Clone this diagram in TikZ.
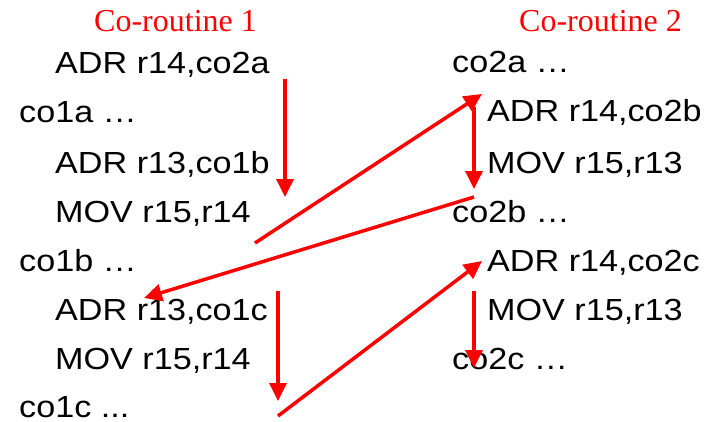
\documentclass[tikz,border=0pt]{standalone}
\usepackage{fontspec}
\usetikzlibrary{arrows.meta}
\newfontfamily\codefont[FakeStretch=1.12]{Liberation Sans}
\newfontfamily\titlefont{Liberation Serif}
\definecolor{arrred}{RGB}{255,0,0}
\tikzset{
  code/.style={anchor=base west, inner sep=0pt, font=\codefont\fontsize{30.5}{36}\selectfont, text=black},
  title/.style={anchor=base west, inner sep=0pt, font=\titlefont\fontsize{32}{38}\selectfont, text=arrred},
  flow/.style={draw=arrred, line width=3.5pt, -{Triangle[width=17pt,length=18pt]}}
}
\begin{document}
\begin{tikzpicture}[x=1pt,y=-1pt]
\useasboundingbox (0,0) rectangle (711,422);
% titles
\node[title] (t1) at (94,32) {Co-routine 1};
\node[title] (t2) at (519,32) {Co-routine 2};
% co-routine 1
\node[code] (l1) at (55,74) {ADR r14,co2a};
\node[code] (l2) at (19,123) {co1a \dots};
\node[code] (l3) at (55,173) {ADR r13,co1b};
\node[code] (l4) at (55,222) {MOV r15,r14};
\node[code] (l5) at (19,271) {co1b \dots};
\node[code] (l6) at (55,320) {ADR r13,co1c};
\node[code] (l7) at (55,369) {MOV r15,r14};
\node[code, text depth=0pt] (l8) at (19,417) {co1c ...};
% co-routine 2
\node[code] (r1) at (452,73) {co2a \dots};
\node[code] (r2) at (487,122) {ADR r14,co2b};
\node[code] (r3) at (487,173) {MOV r15,r13};
\node[code] (r4) at (452,222) {co2b \dots};
\node[code] (r5) at (487,271) {ADR r14,co2c};
\node[code] (r6) at (487,320) {MOV r15,r13};
\node[code] (r7) at (452,369) {co2c \dots};
% arrow endpoints
\coordinate (a1s) at (285,79);  \coordinate (a1e) at (285,197);
\coordinate (a2s) at (255,243); \coordinate (a2e) at (482,94);
\coordinate (a3s) at (474,107); \coordinate (a3e) at (474,189);
\coordinate (a4s) at (474,197); \coordinate (a4e) at (144,298);
\coordinate (a5s) at (278,291); \coordinate (a5e) at (278,401);
\coordinate (a6s) at (278,416); \coordinate (a6e) at (482,261);
\coordinate (a7s) at (474,291); \coordinate (a7e) at (474,368);
\draw[flow] (a1s) -- (a1e);
\draw[flow] (a2s) -- (a2e);
\draw[flow] (a3s) -- (a3e);
\draw[flow] (a4s) -- (a4e);
\draw[flow] (a5s) -- (a5e);
\draw[flow] (a6s) -- (a6e);
\draw[flow] (a7s) -- (a7e);
\end{tikzpicture}
\end{document}
